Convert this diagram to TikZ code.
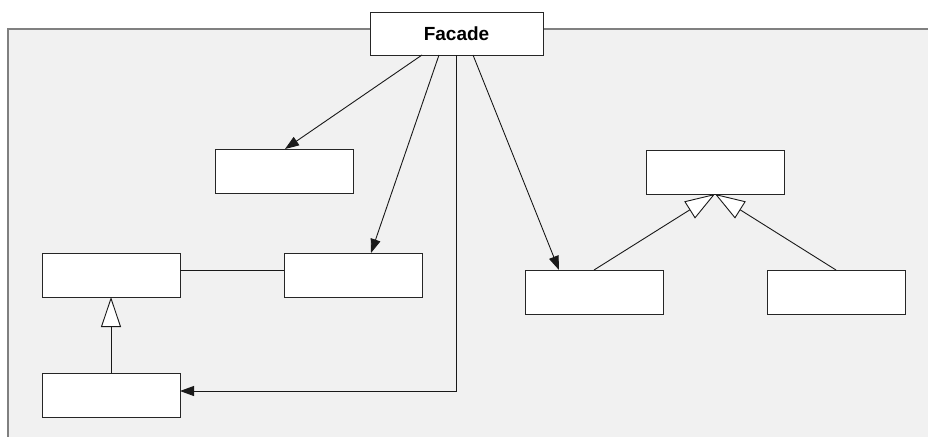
\documentclass[tikz,border=0pt]{standalone}
\usepackage{fontspec}
\setmainfont{Liberation Sans}
\usetikzlibrary{arrows.meta,calc}
\definecolor{panelfill}{HTML}{F1F1F1}
\definecolor{panelline}{HTML}{808080}
\begin{document}
\begin{tikzpicture}[x=1pt,y=-1pt,
  box/.style={draw=black!85, fill=white, line width=1pt, minimum width=138pt, minimum height=44pt, anchor=north west, inner sep=0pt, outer sep=0pt},
  conn/.style={draw=black!90, line width=0.9pt},
  assoc/.style={conn, -{Triangle[length=14pt,width=10pt]}},
  inherit/.style={conn, -{Triangle[open,length=30pt,width=20pt,fill=white]}}]
\useasboundingbox (0,0) rectangle (928,437);
\fill[panelfill] (8,29) rectangle (928,437);
\draw[panelline, line width=1.5pt] (928,29) -- (8,29) -- (8,437);
\node[box, minimum width=173pt, minimum height=43pt, font=\bfseries\fontsize{19}{22}\selectfont] (facade) at (370,12) {Facade};
\node[box] (a) at (215,149) {};
\node[box] (b) at (284,253) {};
\node[box] (c) at (42,253) {};
\node[box] (d) at (42,373) {};
\node[box] (e) at (646,150) {};
\node[box] (f) at (525,270) {};
\node[box] (g) at (767,270) {};
\draw[assoc] ([xshift=52pt]facade.south west) -- ([xshift=70pt]a.north west);
\draw[assoc] ([xshift=69pt]facade.south west) -- ([xshift=87pt]b.north west);
\draw[assoc] ([xshift=86pt]facade.south west) |- ([yshift=4pt]d.east);
\draw[assoc] ([xshift=103pt]facade.south west) -- ([xshift=34pt]f.north west);
\draw[conn] ([yshift=5pt]c.east) -- ([yshift=5pt]c.east -| b.west);
\draw[inherit] (d.north) -- (c.south);
\draw[inherit] (f.north) -- (e.south);
\draw[inherit] (g.north) -- (e.south);
\end{tikzpicture}
\end{document}
